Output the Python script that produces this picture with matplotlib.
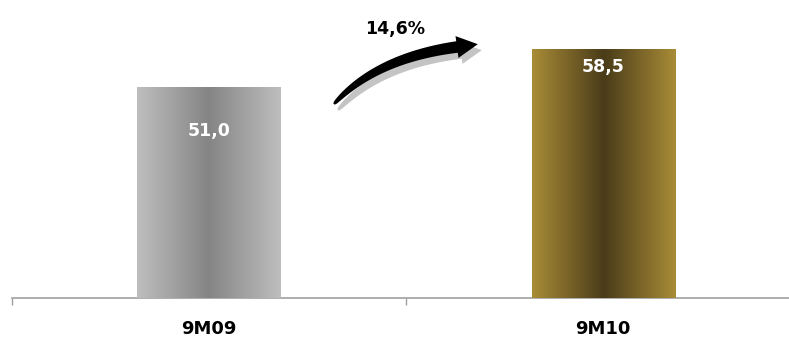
import numpy as np
import matplotlib.pyplot as plt
from matplotlib.patches import Polygon
from matplotlib.colors import LinearSegmentedColormap

# dados do gráfico
periodos = ['9M09', '9M10']
valores = [51.0, 58.5]
rotulos = ['51,0', '58,5']
variacao = '14,6%'

# cores das barras (borda, centro) para o degradê
cores = [('#bebebe', '#858585'), ('#a98c37', '#4a3c19')]
desloc_rotulo = [-31, -13]  # pontos abaixo do topo da barra

W, H = 789, 340
fig = plt.figure(figsize=(W / 100, H / 100), dpi=100)
ax = fig.add_axes([12 / W, 42 / H, 1 - 12 / W, 1 - 42 / H])

x = np.arange(len(periodos))
largura = 0.363
barras = ax.bar(x, valores, width=largura, color='none', edgecolor='none', zorder=2)

# eixo
for s in ['top', 'right', 'left']:
    ax.spines[s].set_visible(False)
ax.spines['bottom'].set_color('#a0a0a0')
ax.spines['bottom'].set_linewidth(1.2)
ax.set_yticks([])
ax.set_xticks([-0.5, 0.5, 1.5])
ax.set_xticklabels([])
ax.tick_params(axis='x', which='major', length=5, color='#a0a0a0', width=1)
ax.set_xticks(x, minor=True)
ax.set_xticklabels(periodos, minor=True, fontsize=13, fontweight='bold')
ax.tick_params(axis='x', which='minor', length=0, pad=16)

# degradê horizontal em cada barra
grad = np.abs(np.linspace(-1, 1, 256))[None, :]
for b, (borda, centro) in zip(barras, cores):
    cmap = LinearSegmentedColormap.from_list('g', [centro, borda])
    x0, y0 = b.get_x(), b.get_y()
    im = ax.imshow(grad, cmap=cmap, aspect='auto', zorder=3,
                   extent=[x0, x0 + b.get_width(), 10, y0 + b.get_height()])
    im.set_clip_path(b)

# limites por último (set_xticks e imshow mexem na vista)
ax.set_xlim(-0.5, 1.472)
ax.set_ylim(10, 68.04)

for xi, v, r, d in zip(x, valores, rotulos, desloc_rotulo):
    ax.annotate(r, (xi, v), xytext=(0, d), textcoords='offset points',
                ha='center', va='center', color='white', fontsize=12.5,
                fontweight='bold', zorder=5)


# seta curva afinada (coordenadas em pixels da figura)
def seta(p0, p1, p2, dx=0, dy=0, cor='black'):
    p0, p1, p2 = [np.array(p, float) + (dx, dy) for p in (p0, p1, p2)]
    t = np.linspace(0, 1, 60)[:, None]
    c = (1 - t) ** 2 * p0 + 2 * (1 - t) * t * p1 + t ** 2 * p2
    tg = 2 * (1 - t) * (p1 - p0) + 2 * t * (p2 - p1)
    tg = tg / np.linalg.norm(tg, axis=1)[:, None]
    nm = np.column_stack([-tg[:, 1], tg[:, 0]])
    w = (1.0 + 4.8 * t[:, 0] ** 0.45)[:, None]
    sup = c + nm * w
    inf = c - nm * w
    u, n = tg[-1], nm[-1]
    ponta = [p2 + n * 11, p2 + u * 21, p2 - n * 11]
    pts = np.vstack([sup, ponta, inf[::-1]])
    pts = np.column_stack([pts[:, 0] / W, 1 - pts[:, 1] / H])
    fig.patches.append(Polygon(pts, closed=True, transform=fig.transFigure,
                               facecolor=cor, edgecolor='none', zorder=4))


curva = ((334, 104), (376, 58), (457, 47))
seta(*curva, dx=4, dy=6, cor='#c4c4c4')
seta(*curva)

fig.text(395 / W, 1 - 29 / H, variacao, ha='center', va='center',
         fontsize=12.5, fontweight='bold')

fig.savefig('out.png', dpi=100)
